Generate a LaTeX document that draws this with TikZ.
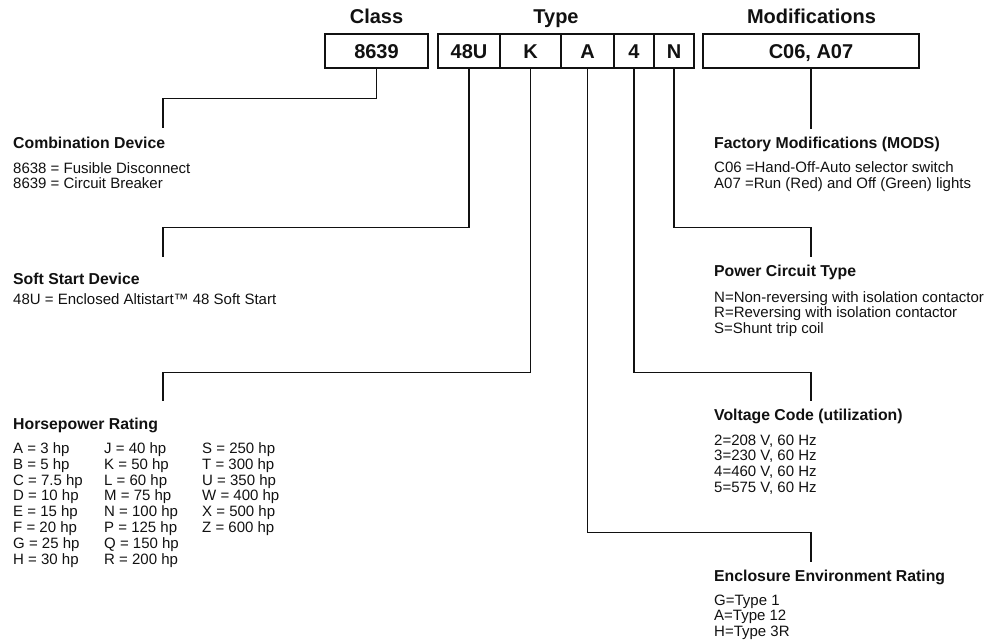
\documentclass[tikz,border=0pt]{standalone}
\usepackage{fontspec}
\setmainfont{Liberation Sans}
\usepackage{xcolor}
\definecolor{code-ink}{HTML}{111111}
\usetikzlibrary{positioning}

\begin{document}
\begin{tikzpicture}[x=1pt, y=-1pt, every node/.style={inner sep=0pt, text=code-ink},
    codebox/.style={draw=code-ink, line width=1.1pt, minimum height=34pt,
      text height=14.3pt, text depth=0pt, font=\fontsize{20}{24}\selectfont\bfseries},
    headlbl/.style={anchor=base, font=\fontsize{20}{24}\selectfont\bfseries},
    grouptitle/.style={anchor=base west, font=\fontsize{15.8}{18}\selectfont\bfseries},
    grouplist/.style={anchor=base west, align=left, font=\fontsize{15}{15.6}\selectfont},
    leader/.style={draw=code-ink, line width=1.1pt}]
  \useasboundingbox (0,0) rectangle (994,641);
  \node[headlbl] (clshead) at (376.5,23.2) {Class};
  \node[headlbl] (typehead) at (556,23.2) {Type};
  \node[headlbl] (modhead) at (811.5,23.2) {Modifications};
  \node[codebox, minimum width=103pt] (cls) at (376.5,51) {8639};
  \node[codebox, minimum width=62pt] (sst) at (469,51) {48U};
  \node[codebox, minimum width=61pt] (hp) at (530.5,51) {K};
  \node[codebox, minimum width=53pt] (encl) at (587.5,51) {A};
  \node[codebox, minimum width=40pt] (volt) at (634,51) {4};
  \node[codebox, minimum width=40pt] (pwr) at (674,51) {N};
  \node[codebox, minimum width=216pt] (mods) at (811,51) {C06, A07};
  \coordinate (combotip) at (163,128);
  \coordinate (softtip) at (163,257);
  \coordinate (hptip) at (163,401);
  \coordinate (modtip) at (811,129);
  \coordinate (pwrtip) at (811,257);
  \coordinate (volttip) at (811,401);
  \coordinate (encltip) at (811,562);
  \draw[leader] (cls.south) -- ++(0,30) -| (combotip);
  \draw[leader] (sst.south) -- ++(0,158.5) -| (softtip);
  \draw[leader] (hp.south) -- ++(0,303.5) -| (hptip);
  \draw[leader] (mods.south) -- (modtip);
  \draw[leader] (pwr.south) -- ++(0,158.5) -| (pwrtip);
  \draw[leader] (volt.south) -- ++(0,303.5) -| (volttip);
  \draw[leader] (encl.south) -- ++(0,463.5) -| (encltip);
  \node[grouptitle] (combotitle) at (13,148.5) {Combination Device};
  \node[grouplist] (combolist) at (13,188.6) {8638 = Fusible Disconnect\\8639 = Circuit Breaker};
  \node[grouptitle] (softtitle) at (13,284.5) {Soft Start Device};
  \node[grouplist] (softlist) at (13,304.3) {48U = Enclosed Altistart™ 48 Soft Start};
  \node[grouptitle] (hptitle) at (13,429.5) {Horsepower Rating};
  \node[grouplist, font=\fontsize{15}{15.86}\selectfont] (hpcola) at (13,564.3)
    {A = 3 hp\\B = 5 hp\\C = 7.5 hp\\D = 10 hp\\E = 15 hp\\F = 20 hp\\G = 25 hp\\H = 30 hp};
  \node[grouplist, font=\fontsize{15}{15.86}\selectfont] (hpcolb) at (104,564.3)
    {J = 40 hp\\K = 50 hp\\L = 60 hp\\M = 75 hp\\N = 100 hp\\P = 125 hp\\Q = 150 hp\\R = 200 hp};
  \node[grouplist, font=\fontsize{15}{15.86}\selectfont] (hpcolc) at (202,532.6)
    {S = 250 hp\\T = 300 hp\\U = 350 hp\\W = 400 hp\\X = 500 hp\\Z = 600 hp};
  \node[grouptitle] (modtitle) at (714,148.5) {Factory Modifications (MODS)};
  \node[grouplist] (modlist) at (714,188.1) {C06 =Hand-Off-Auto selector switch\\A07 =Run (Red) and Off (Green) lights};
  \node[grouptitle] (pwrtitle) at (714,276.5) {Power Circuit Type};
  \node[grouplist] (pwrlist) at (714,333.5) {N=Non-reversing with isolation contactor\\R=Reversing with isolation contactor\\S=Shunt trip coil};
  \node[grouptitle] (volttitle) at (714,420.5) {Voltage Code (utilization)};
  \node[grouplist] (voltlist) at (714,492.1) {2=208 V, 60 Hz\\3=230 V, 60 Hz\\4=460 V, 60 Hz\\5=575 V, 60 Hz};
  \node[grouptitle] (encltitle) at (714,581.5) {Enclosure Environment Rating};
  \node[grouplist] (encllist) at (714,636.5) {G=Type 1\\A=Type 12\\H=Type 3R};
\end{tikzpicture}
\end{document}
